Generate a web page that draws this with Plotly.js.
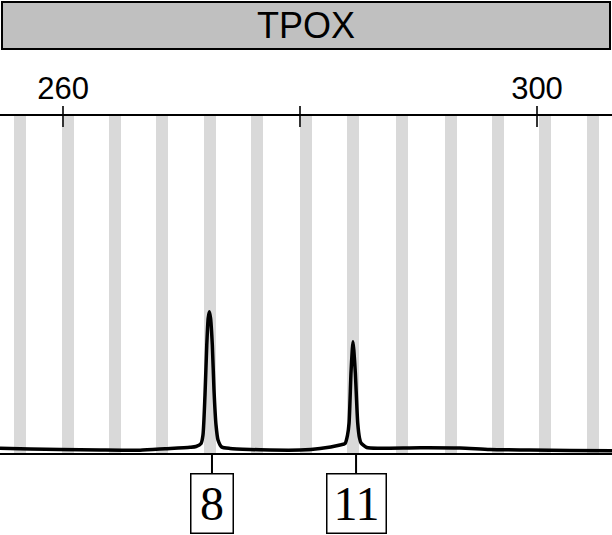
<!DOCTYPE html>
<html>
<head>
<meta charset="utf-8">
<script src="https://cdn.plot.ly/plotly-3.0.1.min.js"></script>
<style>html,body{margin:0;padding:0;background:#fff;}#chart{width:612px;height:535px;}</style>
</head>
<body>
<div id="chart"></div>
<script>
// ---- data ----
const markerName = 'TPOX';
const tickVals = [260, 280, 300];
const tickText = ['260', '', '300'];
const xRange = [254.68, 306.33];
const yRange = [0, 1000];

// allele bins (bp) for alleles 4..16
const binSizes = [256.37, 260.42, 264.39, 268.35, 272.41, 276.37, 280.51, 284.47, 288.61, 292.74, 296.71, 300.68, 304.73];
const binWidth = 1.0;
const binHeight = [1000, 1000, 1000, 1000, 1000, 1000, 1000, 1000, 1000, 1000, 1000, 1000, 1000];

// electropherogram trace (size in bp, signal in RFU)
const traceSize = [254.68, 257.22, 259.75, 263.12, 266.50, 268.61, 270.72, 271.22, 271.65, 271.81, 271.98, 272.13, 272.25, 272.35, 272.45, 272.60, 272.74, 272.91, 273.08, 273.39, 274.09, 275.78, 277.47, 280.00, 281.69, 283.38, 283.80, 284.01, 284.14, 284.30, 284.41, 284.47, 284.54, 284.67, 284.87, 285.02, 285.15, 285.63, 286.75, 290.13, 293.50, 296.03, 299.41, 302.78, 306.33];
const traceRFU = [13.9, 11.9, 10.4, 8.9, 8.3, 12.5, 16.9, 19.3, 28.2, 53.4, 172, 320, 400, 419, 400, 320, 187, 83, 38.6, 17.8, 13.4, 10.4, 8.9, 8.9, 13.4, 23.7, 28.2, 53.4, 89, 237, 306, 330, 306, 237, 89, 44.5, 29.7, 16.3, 14.2, 15.7, 14.8, 10.4, 8.9, 7.4, 6.8];

// allele calls
const alleleNames = ['8', '11'];
const alleleSizes = [272.57, 284.73];
const alleleBoxWidths = [41, 58];

// ---- chart ----
const bins = {
  type: 'bar', x: binSizes, y: binHeight, width: binWidth,
  marker: {color: '#d9d9d9', line: {width: 0}},
  xaxis: 'x', yaxis: 'y', hoverinfo: 'skip', showlegend: false
};
const signal = {
  type: 'scatter', mode: 'lines', x: traceSize, y: traceRFU,
  line: {color: '#000', width: 3.5, shape: 'spline', smoothing: 0.6},
  xaxis: 'x2', yaxis: 'y', showlegend: false
};

const annotations = alleleNames.map((name, i) => ({
  xref: 'x', yref: 'paper', x: alleleSizes[i], y: 0,
  text: name, showarrow: true, arrowhead: 0, arrowwidth: 2, arrowcolor: '#000',
  ax: 0, ay: 50,
  font: {family: 'Liberation Serif, Times New Roman, serif', size: 48, color: '#000'},
  bordercolor: '#000', borderwidth: 1.5, borderpad: 0, bgcolor: '#fff',
  width: alleleBoxWidths[i], height: 58, valign: 'middle'
}));

const layout = {
  width: 612, height: 535,
  margin: {l: 0, r: 0, t: 116, b: 82, pad: 0},
  paper_bgcolor: '#fff', plot_bgcolor: '#fff',
  title: {
    text: markerName, x: 0.5, xanchor: 'center', y: 1 - 25 / 535, yanchor: 'middle',
    font: {family: 'Liberation Sans, Arial, sans-serif', size: 36, color: '#000'}
  },
  xaxis: {
    range: xRange, side: 'top', showgrid: false, zeroline: false,
    showline: true, linecolor: '#000', linewidth: 2, mirror: true,
    ticks: 'outside', ticklen: 8, tickwidth: 1.5, tickcolor: '#333',
    tickvals: tickVals, ticktext: tickText, ticklabelstandoff: -5,
    tickfont: {family: 'Liberation Sans, Arial, sans-serif', size: 31, color: '#000'}
  },
  xaxis2: {
    overlaying: 'x', matches: 'x', side: 'top', anchor: 'y',
    showgrid: false, zeroline: false, showline: false,
    ticks: 'inside', ticklen: 11, tickwidth: 1.5, tickcolor: '#333',
    tickvals: tickVals, showticklabels: false
  },
  yaxis: {range: yRange, visible: false, showgrid: false, zeroline: false, fixedrange: true},
  bargap: 0,
  shapes: [{
    type: 'rect', xref: 'paper', yref: 'paper',
    x0: 2 / 612, x1: 610 / 612, y0: (453 - 49) / 337, y1: (453 - 2) / 337,
    fillcolor: '#c0c0c0', line: {color: '#000', width: 2}, layer: 'below'
  }],
  annotations: annotations
};

Plotly.newPlot('chart', [bins, signal], layout, {displayModeBar: false, staticPlot: true});
</script>
</body>
</html>
